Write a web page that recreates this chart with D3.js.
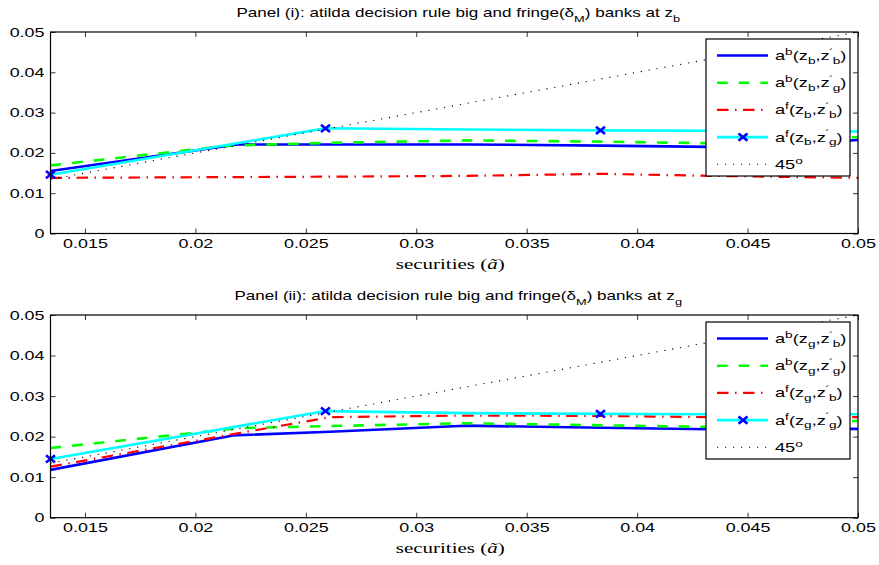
<!DOCTYPE html>
<html>
<head>
<meta charset="utf-8">
<script src="https://cdn.jsdelivr.net/npm/d3@7"></script>
<style>
  body { margin: 0; background: #fff; }
  svg { display: block; }
  text { font-family: "Liberation Sans", Arial, sans-serif; fill: #000; }
</style>
</head>
<body>
<div id="chart-container"></div>
<script>
/**************************************************
 * Data
 **************************************************/

const xTicks = [0.015, 0.02, 0.025, 0.03, 0.035, 0.04, 0.045, 0.05];
const xTickLabels = ["0.015", "0.02", "0.025", "0.03", "0.035", "0.04", "0.045", "0.05"];
const yTicks = [0, 0.01, 0.02, 0.03, 0.04, 0.05];
const yTickLabels = ["0", "0.01", "0.02", "0.03", "0.04", "0.05"];
const xDomain = [0.01344, 0.05];
const yDomain = [0, 0.05];

// panel (i), today's state z_b
const bigBad_b = [[0.01344, 0.0155], [0.0219, 0.0221], [0.0261, 0.0221], [0.0323, 0.0221], [0.0384, 0.0218], [0.0433, 0.0215], [0.0458, 0.0216], [0.05, 0.0232]];
const bigGood_b = [[0.01344, 0.0169], [0.0215, 0.0218], [0.0261, 0.0225], [0.0323, 0.0231], [0.0384, 0.0228], [0.0433, 0.0224], [0.0458, 0.0224], [0.05, 0.0239]];
const fringeBad_b = [[0.01344, 0.0138], [0.0261, 0.0141], [0.0323, 0.0143], [0.0384, 0.0148], [0.0433, 0.0143], [0.05, 0.0138]];
const fringeGood_b = [[0.01344, 0.0146], [0.02589, 0.0261], [0.0323, 0.0258], [0.03834, 0.0256], [0.0433, 0.0255], [0.05, 0.0253]];
const fringeGoodMarks_b = [[0.01344, 0.0146], [0.02589, 0.0261], [0.03834, 0.0256]];

// panel (ii), today's state z_g
const bigBad_g = [[0.01344, 0.0118], [0.0217, 0.0203], [0.0261, 0.0212], [0.0322, 0.0227], [0.0384, 0.0222], [0.0433, 0.0218], [0.05, 0.0219]];
const bigGood_g = [[0.01344, 0.0172], [0.022, 0.0221], [0.0261, 0.0226], [0.0322, 0.0233], [0.0384, 0.0228], [0.0433, 0.0224], [0.0458, 0.0224], [0.05, 0.0239]];
const fringeBad_g = [[0.01344, 0.0126], [0.0217, 0.0206], [0.0261, 0.0248], [0.0322, 0.0252], [0.0384, 0.0251], [0.0433, 0.0248], [0.05, 0.0248]];
const fringeGood_g = [[0.01344, 0.0145], [0.02589, 0.0263], [0.0322, 0.0258], [0.03834, 0.0256], [0.0433, 0.0255], [0.05, 0.0255]];
const fringeGoodMarks_g = [[0.01344, 0.0145], [0.02589, 0.0263], [0.03834, 0.0256]];

const diagonal = [[0.01344, 0.01344], [0.05, 0.05]];

/**************************************************
 * Layout / styles
 **************************************************/

const W = 879, H = 565;
const SX = 1.4; // the figure is stretched sideways
const left = 50.5, right = 858;

const styles = {
  bigBad:     { color: "#0000ff", width: 2.6, dash: null },
  bigGood:    { color: "#00ff00", width: 2.6, dash: "10.7,11" },
  fringeBad:  { color: "#ff0000", width: 2.2, dash: "11.5,6.5,1.5,6.5" },
  fringeGood: { color: "#00ffff", width: 2.6, dash: null },
  diag:       { color: "#000000", width: 1.1, dash: "1.2,6.8" }
};

const svg = d3.select("#chart-container")
  .append("svg")
  .attr("width", W)
  .attr("height", H);

function stretchedText(g, x, y, anchor, size, family) {
  return g.append("text")
    .attr("transform", `translate(${x},${y}) scale(${SX},1)`)
    .attr("text-anchor", anchor)
    .attr("font-size", size)
    .style("font-family", family || null);
}

function addSub(t, s) {
  t.append("tspan").attr("baseline-shift", "sub").attr("font-size", "0.75em").text(s);
}

// a^sup(z_z, z'_zp) built with dy shifts so the pieces line up
function legendLabel(t, sup, z, zp) {
  t.append("tspan").text("a");
  t.append("tspan").attr("dy", -5).attr("font-size", "0.75em").text(sup);
  t.append("tspan").attr("dy", 5).text("(z");
  t.append("tspan").attr("dy", 3.5).attr("font-size", "0.75em").text(z);
  t.append("tspan").attr("dy", -3.5).text(",z");
  t.append("tspan").attr("dx", -0.5).attr("dy", -5.5).attr("font-size", "0.7em").text("\u00b4");
  t.append("tspan").attr("dx", -0.3).attr("dy", 9).attr("font-size", "0.75em").text(zp);
  t.append("tspan").attr("dy", -3.5).text(")");
}

function drawPanel(cfg) {
  const { top, bottom, title, z, series, marks } = cfg;
  const g = svg.append("g");

  const x = d3.scaleLinear().domain(xDomain).range([left, right]);
  const y = d3.scaleLinear().domain(yDomain).range([bottom, top]);

  const clipId = "clip-" + z;
  g.append("clipPath").attr("id", clipId)
    .append("rect")
    .attr("x", left).attr("y", top)
    .attr("width", right - left).attr("height", bottom - top);

  // axes, MATLAB style: ticks inside on all four sides
  const fmtX = d => xTickLabels[xTicks.indexOf(d)];
  const fmtY = d => yTickLabels[yTicks.indexOf(d)];

  const axB = g.append("g").attr("transform", `translate(0,${bottom})`)
    .call(d3.axisBottom(x).tickValues(xTicks).tickFormat(fmtX).tickSizeInner(-5).tickSizeOuter(0).tickPadding(5));
  const axT = g.append("g").attr("transform", `translate(0,${top})`)
    .call(d3.axisTop(x).tickValues(xTicks).tickFormat("").tickSizeInner(-5).tickSizeOuter(0));
  const axL = g.append("g").attr("transform", `translate(${left},0)`)
    .call(d3.axisLeft(y).tickValues(yTicks).tickFormat(fmtY).tickSizeInner(-5).tickSizeOuter(0).tickPadding(6));
  const axR = g.append("g").attr("transform", `translate(${right},0)`)
    .call(d3.axisRight(y).tickValues(yTicks).tickFormat("").tickSizeInner(-5).tickSizeOuter(0));

  [axB, axT, axL, axR].forEach(a => {
    a.select(".domain").remove();
    a.selectAll("line").attr("stroke", "#000").attr("stroke-width", 0.8);
    a.selectAll("text").attr("font-size", 12.8).attr("fill", "#000")
      .style("font-family", '"Liberation Sans", Arial, sans-serif');
  });
  axB.selectAll("text").attr("transform", `scale(${SX},1)`);
  axL.selectAll("text").attr("x", -6 / SX).attr("transform", `scale(${SX},1)`);

  // series
  const line = d3.line().x(d => x(d[0])).y(d => y(d[1]));
  const plot = g.append("g").attr("clip-path", `url(#${clipId})`);
  series.forEach(s => {
    const st = styles[s.style];
    plot.append("path")
      .datum(s.data)
      .attr("d", line)
      .attr("fill", "none")
      .attr("stroke", st.color)
      .attr("stroke-width", st.width)
      .attr("stroke-dasharray", st.dash)
      .attr("stroke-linejoin", "round");
  });

  const cross = "M-4.5,-3.6L4.5,3.6M-4.5,3.6L4.5,-3.6";
  g.selectAll(".mark-" + z)
    .data(marks)
    .join("path")
    .attr("class", "mark-" + z)
    .attr("transform", d => `translate(${x(d[0])},${y(d[1])})`)
    .attr("d", cross)
    .attr("stroke", "#0000ff")
    .attr("stroke-width", 2.6)
    .attr("fill", "none");

  // box
  g.append("rect")
    .attr("x", left).attr("y", top)
    .attr("width", right - left).attr("height", bottom - top)
    .attr("fill", "none").attr("stroke", "#000").attr("stroke-width", 1.2);

  // title
  const tt = stretchedText(g, (left + right) / 2 + 4, top - 15, "middle", 12.2);
  tt.append("tspan").text(`Panel (${title}): atilda decision rule big and fringe(\u03b4`);
  addSub(tt, "M");
  tt.append("tspan").text(") banks at z");
  addSub(tt, z);

  // x label
  const xl = stretchedText(g, (left + right) / 2 - 4, bottom + 35, "middle", 15, '"Liberation Serif", "DejaVu Serif", serif');
  xl.append("tspan").text("securities (");
  xl.append("tspan").attr("font-style", "italic").text("\u00e3");
  xl.append("tspan").text(")");

  // legend
  const lg = g.append("g");
  const lx = 706, ly = top + 7, lw = 144, lh = 137;
  lg.append("rect")
    .attr("x", lx).attr("y", ly).attr("width", lw).attr("height", lh)
    .attr("fill", "#fff").attr("stroke", "#000").attr("stroke-width", 1.2);

  const entries = [
    { style: "bigBad", sup: "b", zp: "b" },
    { style: "bigGood", sup: "b", zp: "g" },
    { style: "fringeBad", sup: "f", zp: "b" },
    { style: "fringeGood", sup: "f", zp: "g", mark: true },
    { style: "diag" }
  ];
  entries.forEach((e, i) => {
    const ry = ly + 16.5 + i * 27.2;
    const st = styles[e.style];
    lg.append("line")
      .attr("x1", lx + 11).attr("x2", lx + 62)
      .attr("y1", ry).attr("y2", ry)
      .attr("stroke", st.color)
      .attr("stroke-width", st.width)
      .attr("stroke-dasharray", st.dash);
    if (e.mark) {
      lg.append("path")
        .attr("transform", `translate(${lx + 37},${ry})`)
        .attr("d", cross)
        .attr("stroke", "#0000ff").attr("stroke-width", 2.6).attr("fill", "none");
    }
    const t = stretchedText(lg, lx + 69, ry + 4.5, "start", 13);
    if (e.style === "diag") {
      t.append("tspan").text("45");
      t.append("tspan").attr("dy", -5).attr("font-size", "0.75em").text("o");
    } else {
      legendLabel(t, e.sup, z, e.zp);
    }
  });
}

drawPanel({
  top: 32, bottom: 233.5, title: "i", z: "b",
  series: [
    { style: "bigBad", data: bigBad_b },
    { style: "bigGood", data: bigGood_b },
    { style: "fringeBad", data: fringeBad_b },
    { style: "fringeGood", data: fringeGood_b },
    { style: "diag", data: diagonal }
  ],
  marks: fringeGoodMarks_b
});

drawPanel({
  top: 315, bottom: 517.7, title: "ii", z: "g",
  series: [
    { style: "bigBad", data: bigBad_g },
    { style: "bigGood", data: bigGood_g },
    { style: "fringeBad", data: fringeBad_g },
    { style: "fringeGood", data: fringeGood_g },
    { style: "diag", data: diagonal }
  ],
  marks: fringeGoodMarks_g
});
</script>
</body>
</html>
